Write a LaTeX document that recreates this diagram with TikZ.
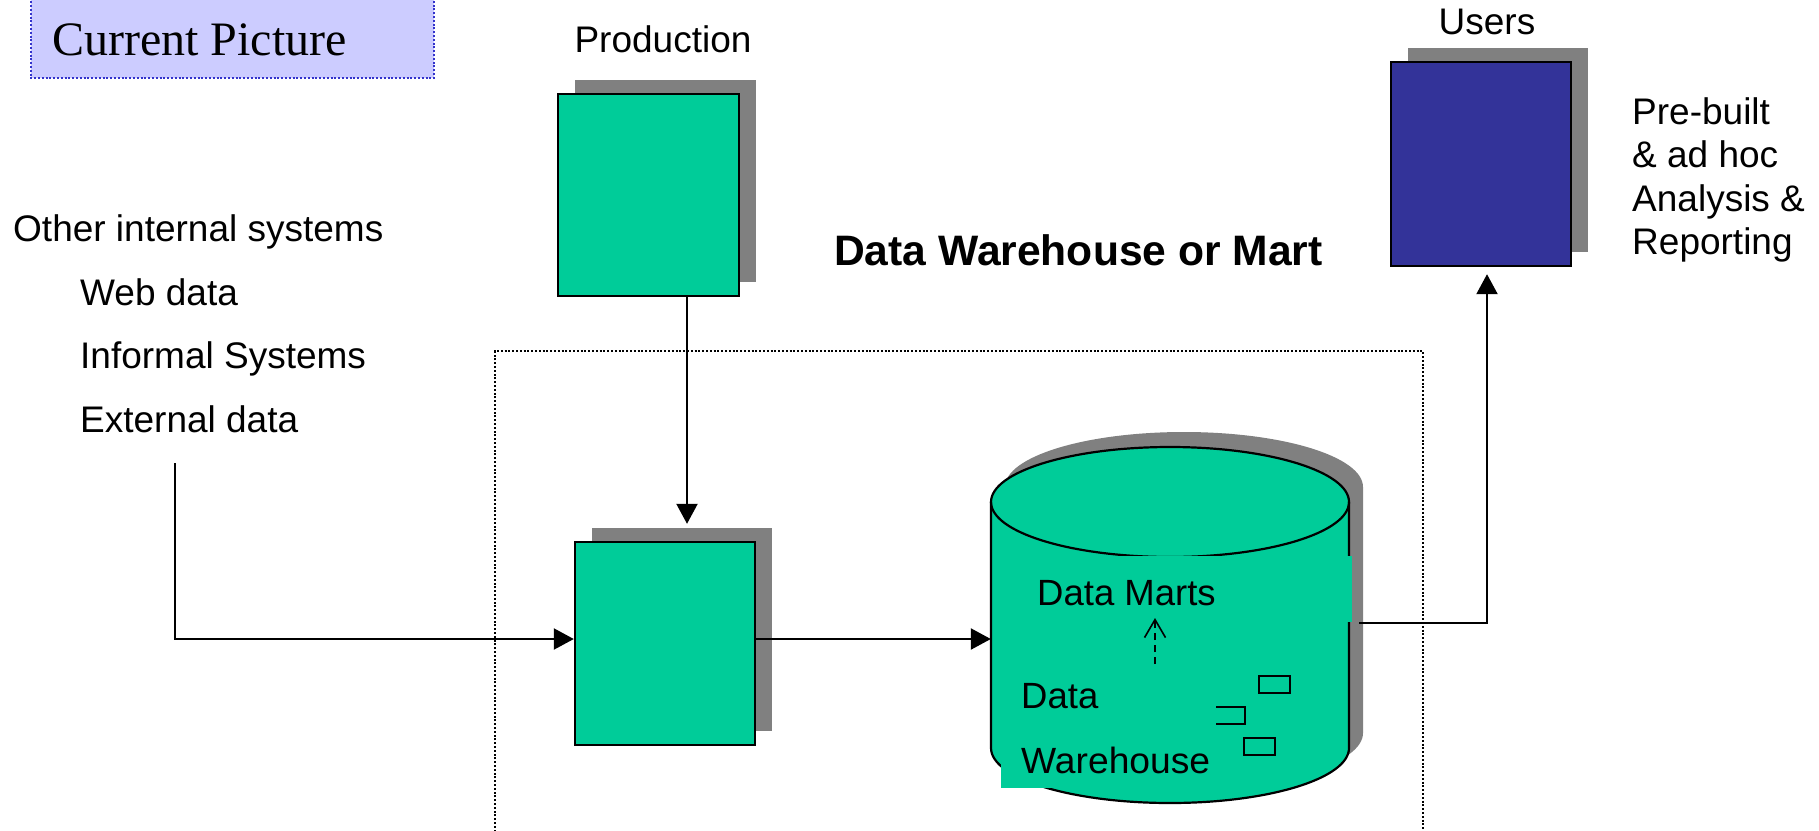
\documentclass[tikz,border=0pt]{standalone}
\usepackage{fontspec}
\setmainfont{Liberation Sans}
\newfontfamily\serifface{Liberation Serif}
\usetikzlibrary{arrows.meta,shadows}

\definecolor{boxgreen}{HTML}{00CC99}
\definecolor{shadegray}{HTML}{808080}
\definecolor{userblue}{HTML}{333399}
\definecolor{labelfill}{HTML}{CCCCFF}
\definecolor{labelline}{HTML}{3333CC}

\begin{document}
\begin{tikzpicture}[x=1pt,y=-1pt,
  txt/.style={font=\fontsize{37}{44}\selectfont, inner sep=0pt, anchor=base west},
  cyltxt/.style={font=\fontsize{36.5}{44}\selectfont, inner sep=0pt, anchor=base west},
  block/.style={draw=black, line width=2.4pt, inner sep=0pt,
    general shadow={shadow xshift=17pt, shadow yshift=14pt, fill=shadegray, draw=none}},
  conn/.style={line width=2.2pt, -{Triangle[length=20pt,width=21pt]}},
  dotline/.style={line width=2pt, dash pattern=on 2pt off 1.8pt},
  flowdash/.style={line width=1.6pt, dash pattern=on 7pt off 5pt,
    -{Straight Barb[length=18pt,width=21pt,line width=1.6pt]}},
  marker/.style={line width=2pt}
]
\useasboundingbox (0,0) rectangle (1819,830);
\clip (0,0) rectangle (1819,830);

% title box in the corner
\filldraw[fill=labelfill, draw=labelline, line width=2pt, dash pattern=on 2pt off 1.8pt]
  (31,-10) rectangle (434,78);
\node[inner sep=0pt, anchor=base west, font=\serifface\fontsize{48}{56}\selectfont]
  (cur) at (52,55) {Current Picture};

% dotted frame round the warehouse area
\draw[dotline] (495,900) |- (1423,351) -- (1423,900);

% source systems
\node[txt] (other) at (13,241) {Other internal systems};
\node[txt] (web) at (80,305) {Web data};
\node[txt] (informal) at (80,368) {Informal Systems};
\node[txt] (external) at (80,432) {External data};

% production, staging and users boxes
\node[txt, anchor=base] (prodlbl) at (663,52) {Production};
\node[block, fill=boxgreen, minimum width=181pt, minimum height=202pt] (prod) at (648.5,195) {};
\node[block, fill=boxgreen, minimum width=180pt, minimum height=203pt] (stage) at (665,643.5) {};
\node[txt, anchor=base] (userslbl) at (1487,34) {Users};
\node[block, fill=userblue, minimum width=180pt, minimum height=204pt] (users) at (1481,164) {};

\node[txt] (pre) at (1632,124) {Pre-built};
\node[txt] (adhoc) at (1632,167.5) {\& ad hoc};
\node[txt] (analysis) at (1632,211) {Analysis \&};
\node[txt] (reporting) at (1632,254.5) {Reporting};

\node[inner sep=0pt, anchor=base west, font=\bfseries\fontsize{42.6}{50}\selectfont]
  (title) at (834,265) {Data Warehouse or Mart};

% warehouse cylinder: shadow, body, top rim
\fill[shadegray, shift={(14,-15)}] (991,502) -- (991,748)
  arc[start angle=180, end angle=360, x radius=179pt, y radius=55pt]
  -- (1349,502)
  arc[start angle=0, end angle=180, x radius=179pt, y radius=55pt] -- cycle;
\filldraw[fill=boxgreen, draw=black, line width=2.2pt] (991,502) -- (991,748)
  arc[start angle=180, end angle=360, x radius=179pt, y radius=55pt]
  -- (1349,502)
  arc[start angle=0, end angle=180, x radius=179pt, y radius=55pt] -- cycle;
\draw[line width=2.2pt] (991,502)
  arc[start angle=180, end angle=360, x radius=179pt, y radius=55pt];
\node[inner sep=0pt, minimum width=358pt, minimum height=274pt] (dw) at (1170,639) {};

% filled text panels inside the cylinder
\fill[boxgreen] (1020,555.5) rectangle (1351.5,622);
\fill[boxgreen] (1001,690) rectangle (1200,788);

\node[cyltxt] (dm) at (1037,605) {Data Marts};
\node[cyltxt] (dwa) at (1021,708) {Data};
\node[cyltxt] (dwb) at (1021,773) {\scalebox{1.02}[1]{Warehouse}};

% little tables inside the warehouse
\draw[marker] (1259,676) rectangle (1290,693);
\draw[marker] (1216,707) -- (1245,707) -- (1245,724) -- (1216,724);
\draw[marker] (1244,738) rectangle (1275,755);

% load from warehouse into the marts
\coordinate (wfoot) at (1155,664);
\coordinate (wtip) at (1155,618);
\draw[flowdash] (wfoot) -- (wtip);

% connectors
\coordinate (src) at (175,463);
\coordinate (prodin) at ([shift={(22pt,17pt)}]stage.north);
\draw[conn] (prod.south -| prodin) -- (prodin);
\draw[conn] (src) |- ([yshift=4.5pt]stage.west);
\draw[conn] ([yshift=4.5pt]stage.east) -- (dw.west);
\draw[conn] ([shift={(10pt,16pt)}]dw.east) -| ([shift={(6pt,-7pt)}]users.south);
\end{tikzpicture}
\end{document}
